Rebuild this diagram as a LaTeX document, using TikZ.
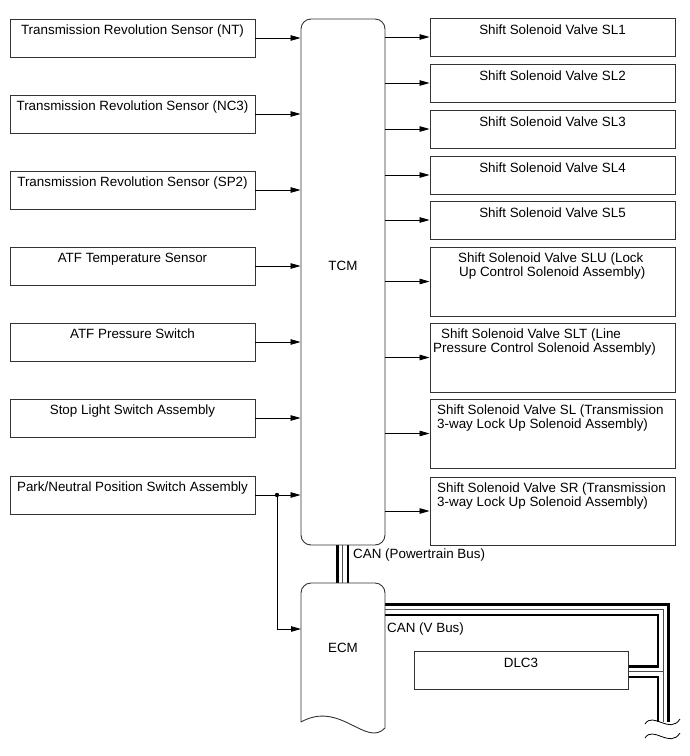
\documentclass[tikz,border=0pt]{standalone}
\usepackage{fontspec}
\setmainfont{Liberation Sans}
\usetikzlibrary{arrows.meta}
\begin{document}
\begin{tikzpicture}[x=1pt,y=-1pt,
  every node/.style={font=\fontsize{13.4}{14.5}\selectfont},
  boxstyle/.style={draw=black!80, line width=0.9pt, rectangle, inner sep=0pt, minimum width=245pt, minimum height=38pt},
  bigbox/.style={boxstyle, minimum height=69pt},
  ctrl/.style={draw=black!80, line width=0.9pt, rectangle, rounded corners=10pt, inner sep=0pt, minimum width=84pt},
  txt/.style={anchor=base, inner sep=0pt},
  txtw/.style={anchor=base west, inner sep=0pt},
  arr/.style={draw=black, line width=0.8pt, -{Triangle[length=10pt,width=5.5pt]}},
  busout/.style={draw=black, line width=13pt},
  busin/.style={draw=white, line width=8pt},
  busmid/.style={draw=black!70, line width=0.7pt},
  wavy/.style={draw=black, line width=0.8pt}
]
\useasboundingbox (0,0) rectangle (690,756);

% ---------- buses (drawn first) ----------
\coordinate (vbA) at (385,609.5);
\coordinate (vbB) at (663,609.5);
\coordinate (vbC) at (663,722);
\coordinate (brA) at (628,671.5);
\coordinate (brB) at (663,671.5);
\coordinate (pbA) at (342.5,545);
\coordinate (pbB) at (342.5,583);
\draw[busout] (pbA) -- (pbB);
\draw[busin] (pbA) -- (pbB);
\draw[busmid] (pbA) -- (pbB);
\draw[busout] (vbA) -- (vbB) -- (vbC);
\draw[busout] (brA) -- (brB);
\draw[busin] (vbA) -- (vbB) -- (vbC);
\draw[busin] (brA) -- (brB);
\draw[busmid] (vbA) -- (vbB) -- (vbC);
\draw[busmid] (brA) -- (brB);

% wave break marks
\draw[wavy] (645,724) .. controls (653,711) and (670,735) .. (680,719);
\draw[wavy] (645,738) .. controls (653,725) and (670,749) .. (680,733);

% ---------- TCM ----------
\node[ctrl, minimum height=526pt, fill=none] (tcm) at (343,282) {};
\node[txt] (tcmt) at (343,270) {TCM};

% ---------- ECM ----------
\draw[draw=black!80, line width=0.9pt] (301,722) [rounded corners=10pt] -- (301,583) -- (385,583) [sharp corners] -- (385,728)
  .. controls (366,748) and (340,700) .. (301,722);
\node[inner sep=0pt, minimum width=84pt, minimum height=140pt] (ecm) at (343,653) {};
\node[txt] (ecmt) at (343,652) {ECM};
\coordinate (ecmin) at (301,629);

% ---------- DLC3 ----------
\node[boxstyle, minimum width=214pt] (dlc) at (521,670) {};
\node[txt] (dlct) at (521,667) {DLC3};

% ---------- bus labels ----------
\node[txtw] (canpt) at (353,558) {CAN (Powertrain Bus)};
\node[txtw] (canvt) at (387,632) {CAN (V Bus)};

% ---------- left inputs ----------
\node[boxstyle] (nt)  at (132.5,38)  {};
\node[boxstyle] (nc3) at (132.5,114) {};
\node[boxstyle] (sp2) at (132.5,190) {};
\node[boxstyle] (atft) at (132.5,266) {};
\node[boxstyle] (atfp) at (132.5,342) {};
\node[boxstyle] (stop) at (132.5,418) {};
\node[boxstyle] (pn)  at (132.5,495) {};
\node[txt] (ntt)  at (132.5,34)  {Transmission Revolution Sensor (NT)};
\node[txt] (nc3t) at (132.5,110) {Transmission Revolution Sensor (NC3)};
\node[txt] (sp2t) at (132.5,186) {Transmission Revolution Sensor (SP2)};
\node[txt] (atftt) at (132.5,262) {ATF Temperature Sensor};
\node[txt] (atfpt) at (132.5,338) {ATF Pressure Switch};
\node[txt] (stopt) at (132.5,414) {Stop Light Switch Assembly};
\node[txt] (pnt)  at (132.5,491) {Park/Neutral Position Switch Assembly};

\foreach \n in {nt,nc3,sp2,atft,atfp,stop,pn}
  \draw[arr] (\n.east) -- (\n.east -| tcm.west);

% junction to ECM
\path (pn.east) -- (pn.east -| tcm.west) coordinate[pos=0.478] (j);
\fill (j) circle (2.2pt);
\draw[arr] (j) |- (ecmin);

% ---------- right outputs ----------
\node[boxstyle] (sl1) at (552.5,37)  {};
\node[boxstyle] (sl2) at (552.5,83)  {};
\node[boxstyle] (sl3) at (552.5,129) {};
\node[boxstyle] (sl4) at (552.5,175) {};
\node[boxstyle] (sl5) at (552.5,220) {};
\node[bigbox] (slu) at (552.5,281.5) {};
\node[bigbox] (slt) at (552.5,357.5) {};
\node[bigbox] (sl)  at (552.5,433.5) {};
\node[bigbox, minimum height=68pt] (sr) at (552.5,511) {};

\node[txt] (sl1t) at (552.5,34)  {Shift Solenoid Valve SL1};
\node[txt] (sl2t) at (552.5,80)  {Shift Solenoid Valve SL2};
\node[txt] (sl3t) at (552.5,126) {Shift Solenoid Valve SL3};
\node[txt] (sl4t) at (552.5,172) {Shift Solenoid Valve SL4};
\node[txt] (sl5t) at (552.5,217) {Shift Solenoid Valve SL5};
\node[txtw] (slut1) at (458,262) {Shift Solenoid Valve SLU (Lock};
\node[txtw] (slut2) at (459,276.5) {Up Control Solenoid Assembly)};
\node[txtw] (sltt1) at (441,338) {Shift Solenoid Valve SLT (Line};
\node[txtw] (sltt2) at (433,352.5) {Pressure Control Solenoid Assembly)};
\node[txtw] (slt1) at (437,414) {Shift Solenoid Valve SL (Transmission};
\node[txtw] (slt2) at (437,428.5) {3-way Lock Up Solenoid Assembly)};
\node[txtw] (srt1) at (437,492) {Shift Solenoid Valve SR (Transmission};
\node[txtw] (srt2) at (437,506.5) {3-way Lock Up Solenoid Assembly)};

\foreach \n in {sl1,sl2,sl3,sl4,sl5,slu,slt,sl,sr}
  \draw[arr] (tcm.east |- \n.west) -- (\n.west);

\end{tikzpicture}
\end{document}
